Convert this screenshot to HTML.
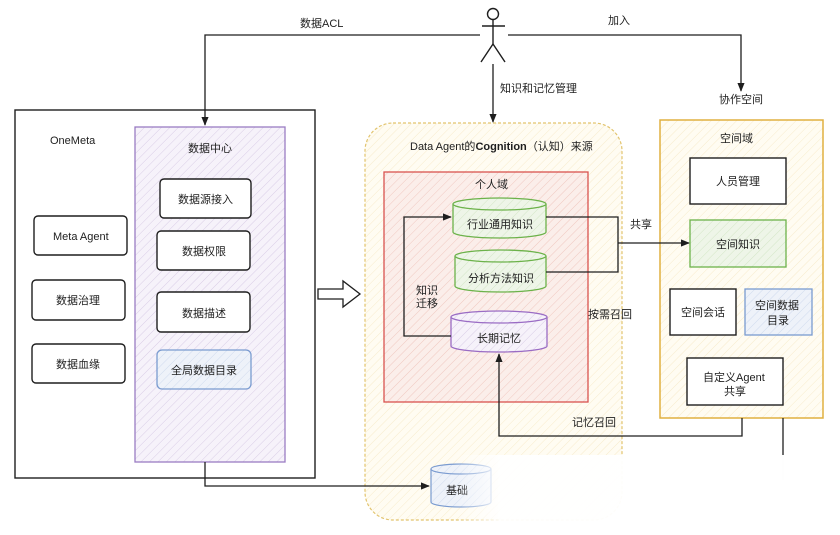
<!DOCTYPE html>
<html><head><meta charset="utf-8">
<style>
html,body{margin:0;padding:0;background:#fff;}
svg{display:block;}
text{font-family:"Liberation Sans","Noto Sans CJK SC",sans-serif;font-size:11px;fill:#1e1e1e;}
</style></head>
<body>
<svg width="840" height="535" viewBox="0 0 840 535" xmlns="http://www.w3.org/2000/svg">
<defs>
<pattern id="hp" width="6" height="6" patternUnits="userSpaceOnUse" patternTransform="rotate(45)">
<rect width="6" height="6" fill="#f6f2fa"/><line x1="0" y1="0" x2="0" y2="6" stroke="#d9cde6" stroke-width="1"/></pattern>
<pattern id="hr" width="6" height="6" patternUnits="userSpaceOnUse" patternTransform="rotate(45)">
<rect width="6" height="6" fill="#fbeeea"/><line x1="0" y1="0" x2="0" y2="6" stroke="#f0c8c0" stroke-width="1"/></pattern>
<pattern id="hy" width="6" height="6" patternUnits="userSpaceOnUse" patternTransform="rotate(45)">
<rect width="6" height="6" fill="#fffcf2"/><line x1="0" y1="0" x2="0" y2="6" stroke="#f7ebcc" stroke-width="1"/></pattern>
<pattern id="hg" width="6" height="6" patternUnits="userSpaceOnUse" patternTransform="rotate(45)">
<rect width="6" height="6" fill="#eef5e8"/><line x1="0" y1="0" x2="0" y2="6" stroke="#d3e6c6" stroke-width="1"/></pattern>
<pattern id="hb" width="6" height="6" patternUnits="userSpaceOnUse" patternTransform="rotate(45)">
<rect width="6" height="6" fill="#eef2f9"/><line x1="0" y1="0" x2="0" y2="6" stroke="#d0dbee" stroke-width="1"/></pattern>
<marker id="ar" viewBox="0 0 10 10" refX="9" refY="5" markerWidth="7" markerHeight="7" orient="auto"><path d="M0,1 L10,5 L0,9 Z" fill="#1e1e1e"/></marker>
<linearGradient id="fade" x1="0" y1="0" x2="1" y2="0"><stop offset="0" stop-color="#fff" stop-opacity="0"/><stop offset="0.12" stop-color="#fff" stop-opacity="0.95"/><stop offset="1" stop-color="#fff" stop-opacity="1"/></linearGradient>
</defs>

<!-- stick figure -->
<g stroke="#1e1e1e" stroke-width="1.4" fill="none">
<circle cx="493" cy="14" r="5.5"/>
<line x1="482" y1="26" x2="505" y2="26"/>
<line x1="493" y1="20" x2="493" y2="44"/>
<line x1="493" y1="44" x2="481" y2="62"/>
<line x1="493" y1="44" x2="505" y2="62"/>
</g>
<text x="300" y="27">数据ACL</text>
<text x="608" y="24">加入</text>
<text x="500" y="92">知识和记忆管理</text>
<text x="719" y="103">协作空间</text>

<!-- OneMeta -->
<rect x="15" y="110" width="300" height="368" fill="#fff" stroke="#1e1e1e" stroke-width="1.4"/>
<text x="50" y="144">OneMeta</text>
<rect x="135" y="127" width="150" height="335" fill="url(#hp)" stroke="#9a7cc4" stroke-width="1.3"/>
<text x="188" y="152">数据中心</text>
<g stroke="#1e1e1e" stroke-width="1.4" fill="#fff">
<rect x="160" y="179" width="91" height="39" rx="4"/>
<rect x="157" y="231" width="93" height="39" rx="4"/>
<rect x="157" y="292" width="93" height="40" rx="4"/>
<rect x="34" y="216" width="93" height="39" rx="4"/>
<rect x="32" y="280" width="93" height="40" rx="4"/>
<rect x="32" y="344" width="93" height="39" rx="4"/>
</g>
<rect x="157" y="350" width="94" height="39" rx="5" fill="url(#hb)" stroke="#7a9bd0" stroke-width="1.3"/>
<text x="178" y="203">数据源接入</text>
<text x="182" y="255">数据权限</text>
<text x="182" y="317">数据描述</text>
<text x="171" y="374">全局数据目录</text>
<text x="53" y="240">Meta Agent</text>
<text x="56" y="304">数据治理</text>
<text x="56" y="368">数据血缘</text>

<!-- block arrow -->
<path d="M318,289 L343,289 L343,281 L360,294 L343,307 L343,299 L318,299 Z" fill="#fff" stroke="#1e1e1e" stroke-width="1.3"/>

<!-- Cognition -->
<rect x="365" y="123" width="257" height="397" rx="28" fill="url(#hy)" stroke="#e2c46e" stroke-width="1.2" stroke-dasharray="3,2"/>
<text x="410" y="150">Data Agent的<tspan font-weight="bold">Cognition</tspan>（认知）来源</text>
<rect x="384" y="172" width="204" height="230" fill="url(#hr)" stroke="#d9534f" stroke-width="1.3"/>
<text x="475" y="188">个人域</text>

<g stroke="#6cb24a" stroke-width="1.3" fill="url(#hg)">
<path d="M453,204 L453,232 A46.5,6 0 0 0 546,232 L546,204"/>
<ellipse cx="499.5" cy="204" rx="46.5" ry="6"/>
<path d="M455,256 L455,286 A45.5,6 0 0 0 546,286 L546,256"/>
<ellipse cx="500.5" cy="256" rx="45.5" ry="6"/>
</g>
<g stroke="#9a6cc4" stroke-width="1.3" fill="url(#hp)">
<path d="M451,317 L451,346 A48,6 0 0 0 547,346 L547,317"/>
<ellipse cx="499" cy="317" rx="48" ry="6"/>
</g>
<text x="467" y="228">行业通用知识</text>
<text x="468" y="282">分析方法知识</text>
<text x="477" y="342">长期记忆</text>

<!-- space domain -->
<rect x="660" y="120" width="163" height="298" fill="url(#hy)" stroke="#e0b040" stroke-width="1.5"/>
<text x="720" y="142">空间域</text>
<g stroke="#1e1e1e" stroke-width="1.4" fill="#fff">
<rect x="690" y="158" width="96" height="46"/>
<rect x="670" y="289" width="66" height="46"/>
<rect x="687" y="358" width="96" height="47"/>
</g>
<rect x="690" y="220" width="96" height="47" fill="url(#hg)" stroke="#6cb24a" stroke-width="1.3"/>
<rect x="745" y="289" width="67" height="46" fill="url(#hb)" stroke="#7a9bd0" stroke-width="1.3"/>
<text x="716" y="185">人员管理</text>
<text x="716" y="248">空间知识</text>
<text x="681" y="316">空间会话</text>
<text x="755" y="309">空间数据</text>
<text x="767" y="324">目录</text>
<text x="703" y="381">自定义Agent</text>
<text x="724" y="395">共享</text>

<!-- 基础 cylinder -->
<g stroke="#7a9bd0" stroke-width="1.2" fill="url(#hb)">
<path d="M431,469 L431,502 A30,5 0 0 0 491,502 L491,469"/>
<ellipse cx="461" cy="469" rx="30" ry="5"/>
</g>
<text x="446" y="494">基础</text>

<!-- connectors -->
<g stroke="#1e1e1e" stroke-width="1.3" fill="none">
<polyline points="480,35 205,35 205,125" marker-end="url(#ar)"/>
<polyline points="508,35 741,35 741,91" marker-end="url(#ar)"/>
<line x1="493" y1="64" x2="493" y2="122" marker-end="url(#ar)"/>
<polyline points="451,336 404,336 404,217 451,217" marker-end="url(#ar)"/>
<polyline points="546,217 618,217 618,272 546,272"/>
<line x1="618" y1="243" x2="689" y2="243" marker-end="url(#ar)"/>
<polyline points="742,418 742,436 499,436 499,354" marker-end="url(#ar)"/>
<line x1="783" y1="418" x2="783" y2="480"/>
<polyline points="205,462 205,486 429,486" marker-end="url(#ar)"/>
</g>
<text x="416" y="294">知识</text>
<text x="416" y="307">迁移</text>
<text x="630" y="228">共享</text>
<text x="588" y="318">按需召回</text>
<text x="572" y="426">记忆召回</text>

<!-- fade overlay -->
<rect x="455" y="455" width="385" height="80" fill="url(#fade)"/>
</svg>
</body></html>
